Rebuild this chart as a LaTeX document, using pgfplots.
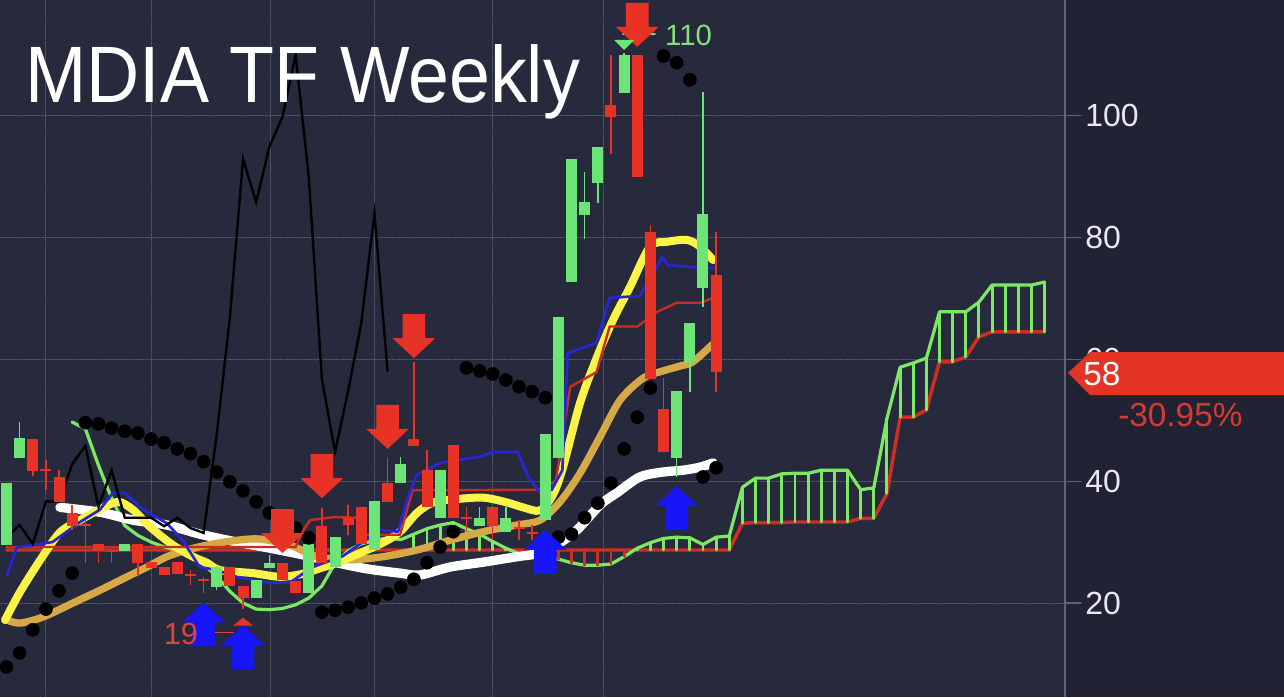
\documentclass[border=0pt]{standalone}
\usepackage{pgfplots}
\pgfplotsset{compat=1.18}
\usepackage{pgfplotstable}
\usepackage{fontspec}
\setmainfont{Liberation Sans}

\definecolor{bgc}{RGB}{39,42,60}
\definecolor{panelc}{RGB}{33,34,52}
\definecolor{gridc}{RGB}{88,92,112}
\definecolor{axc}{RGB}{95,99,118}
\definecolor{tickc}{RGB}{232,232,236}
\definecolor{cgreen}{RGB}{108,228,118}
\definecolor{cred}{RGB}{232,50,38}
\definecolor{emaY}{RGB}{250,244,72}
\definecolor{emaG}{RGB}{214,168,70}
\definecolor{tenkan}{RGB}{38,40,215}
\definecolor{kijun}{RGB}{200,45,32}
\definecolor{spanA}{RGB}{125,232,100}
\definecolor{spanB}{RGB}{205,48,32}
\definecolor{upblue}{RGB}{22,22,248}
\definecolor{tagred}{RGB}{228,52,38}
\definecolor{pcttext}{RGB}{215,58,48}
\definecolor{hilab}{RGB}{130,225,120}
\definecolor{lowlab}{RGB}{228,66,56}

% block arrows, tip at the data point
\pgfdeclareplotmark{arrdown}{%
  \pgfpathmoveto{\pgfqpoint{0pt}{0pt}}%
  \pgfpathlineto{\pgfqpoint{16pt}{15pt}}%
  \pgfpathlineto{\pgfqpoint{8.5pt}{15pt}}%
  \pgfpathlineto{\pgfqpoint{8.5pt}{33pt}}%
  \pgfpathlineto{\pgfqpoint{-8.5pt}{33pt}}%
  \pgfpathlineto{\pgfqpoint{-8.5pt}{15pt}}%
  \pgfpathlineto{\pgfqpoint{-16pt}{15pt}}%
  \pgfpathclose\pgfusepathqfill}
\pgfdeclareplotmark{arrup}{%
  \pgfpathmoveto{\pgfqpoint{0pt}{0pt}}%
  \pgfpathlineto{\pgfqpoint{16pt}{-15pt}}%
  \pgfpathlineto{\pgfqpoint{8.5pt}{-15pt}}%
  \pgfpathlineto{\pgfqpoint{8.5pt}{-33pt}}%
  \pgfpathlineto{\pgfqpoint{-8.5pt}{-33pt}}%
  \pgfpathlineto{\pgfqpoint{-8.5pt}{-15pt}}%
  \pgfpathlineto{\pgfqpoint{-16pt}{-15pt}}%
  \pgfpathclose\pgfusepathqfill}
\pgfdeclareplotmark{triup}{%
  \pgfpathmoveto{\pgfqpoint{0pt}{0pt}}%
  \pgfpathlineto{\pgfqpoint{7.5pt}{-6pt}}%
  \pgfpathlineto{\pgfqpoint{-7.5pt}{-6pt}}%
  \pgfpathclose\pgfusepathqfill}
\pgfdeclareplotmark{tridown}{%
  \pgfpathmoveto{\pgfqpoint{0pt}{0pt}}%
  \pgfpathlineto{\pgfqpoint{7.5pt}{7.5pt}}%
  \pgfpathlineto{\pgfqpoint{-7.5pt}{7.5pt}}%
  \pgfpathclose\pgfusepathqfill}

% weekly candles: index, open, high, low, close
\pgfplotstableread{
i O H L C
0 29.5 39.7 29.5 39.7
1 43.8 49.7 43.8 47.1
9 28.5 29.7 28.5 29.7
16 22.6 26.1 22.1 25.9
19 20.8 23.8 20.8 23.8
20 25.7 27.9 25.7 26.6
23 21.6 29.7 21.6 29.7
25 25.9 30.8 25.9 30.8
28 28.7 36.7 28.7 36.7
30 39.7 44.0 39.7 42.8
33 34.0 41.8 34.0 41.8
36 32.6 35.8 32.6 34.0
38 31.7 35.8 31.7 34.0
41 33.6 47.7 33.6 47.7
42 43.8 66.9 43.8 66.9
43 72.7 92.9 72.7 92.9
44 83.7 90.7 79.7 85.8
45 89.0 94.9 85.7 94.9
47 103.8 110.3 103.8 110.0
51 43.8 54.8 40.7 54.8
52 59.6 66.0 54.6 66.0
53 71.7 103.9 68.6 83.9
}\greencandles

\pgfplotstableread{
i O H L C
2 46.9 46.9 40.9 41.7
3 42.0 43.5 38.6 41.7
4 40.7 41.8 36.6 36.6
5 34.8 36.1 32.0 32.6
6 32.9 33.6 26.6 32.6
7 29.7 29.7 26.6 28.5
8 28.6 28.8 26.6 28.3
10 29.7 29.7 24.6 26.6
11 26.7 26.7 25.7 25.7
12 25.9 25.9 24.6 24.6
13 26.7 26.7 24.8 24.8
14 24.7 25.4 22.9 24.4
15 23.9 24.3 21.7 23.6
17 25.9 25.9 22.8 22.8
18 22.8 22.8 19.0 20.8
21 26.6 26.6 23.8 23.8
22 23.6 23.6 21.6 21.6
24 32.6 35.6 26.6 26.6
26 34.0 36.1 31.2 32.8
27 35.8 35.8 29.7 29.7
29 39.7 43.8 36.6 36.6
31 46.9 59.6 45.8 45.8
32 41.8 45.1 35.8 35.8
34 45.9 45.9 34.0 34.0
35 34.1 35.8 31.7 33.8
37 35.8 35.8 30.3 32.6
39 32.4 33.6 30.3 32.1
40 31.6 32.8 30.3 31.3
46 101.8 110.0 93.7 99.8
48 110.0 110.0 90.0 90.0
49 80.9 82.0 56.8 56.8
50 51.9 56.9 44.8 44.8
54 73.9 80.9 54.6 58.0
}\redcandles

% ichimoku cloud: leading span A and span B
\pgfplotstableread{
i A B
0 nan 28.7
1 nan 28.7
2 nan 28.7
3 nan 28.7
4 nan 28.7
5 49.7 28.7
6 48.6 28.7
7 42.6 28.7
8 37.2 28.7
9 32.7 28.7
10 31.1 28.7
11 30.0 28.7
12 29.2 28.7
13 28.6 28.7
14 27.8 28.7
15 26.3 28.7
16 24.4 28.7
17 21.9 28.7
18 20.0 28.7
19 19.0 28.7
20 18.9 28.7
21 19.1 28.7
22 19.7 28.7
23 20.8 28.7
24 22.8 28.7
25 26.5 28.7
26 28.6 28.7
27 29.7 28.7
28 30.3 28.7
29 30.7 28.7
30 30.4 28.7
31 31.3 28.7
32 32.2 28.7
33 32.8 28.7
34 33.2 28.7
35 32.2 28.7
36 31.3 28.7
37 30.1 28.7
38 29.0 28.7
39 28.1 28.7
40 27.6 28.7
41 27.5 28.7
42 27.2 28.7
43 26.6 28.7
44 26.2 28.7
45 26.2 28.7
46 26.4 28.7
47 27.6 28.7
48 29.0 28.7
49 29.9 28.7
50 30.6 28.7
51 30.8 28.7
52 30.7 28.7
53 29.6 28.7
54 30.8 28.7
55 31.0 28.7
56 39.0 33.1
57 40.5 33.2
58 40.5 33.2
59 41.2 33.2
60 41.3 33.3
61 41.3 33.3
62 41.8 33.3
63 41.8 33.3
64 41.8 33.3
65 38.6 33.9
66 38.9 33.9
67 50.3 38.0
68 58.7 50.5
69 59.4 50.5
70 60.2 51.7
71 67.8 59.6
72 67.8 59.6
73 67.8 60.4
74 69.4 63.7
75 72.2 64.5
76 72.2 64.5
77 72.2 64.5
78 72.2 64.5
79 72.7 64.5
}\cloud

\begin{document}
\begin{tikzpicture}
\fill[bgc] (0,0) rectangle (798.75pt,522.75pt);
\fill[panelc] (798.75pt,0) rectangle (963pt,522.75pt);
\begin{axis}[
    at={(0,0)}, anchor=south west,
    width=798.75pt, height=522.75pt, scale only axis,
    xmin=-0.495, xmax=80.55, ymin=4.565, ymax=119.0,
    axis line style={draw=none},
    ytick={20,40,60,80,100},
    ytick pos=right, yticklabel pos=right,
    xtick={3.0,11.0,20.05,27.97,36.95,45.4},
    xticklabels={},
    xmajorgrids, ymajorgrids,
    grid style={gridc, densely dotted, line width=0.7pt},
    tick align=outside,
    major tick length=12pt,
    x tick style={draw=none},
    y tick style={draw=axc, line width=0.8pt},
    yticklabel style={font=\fontsize{24}{24}\selectfont, text=tickc, inner sep=3pt},
    /pgf/number format/assume math mode=true,
    line cap=round, line join=round,
    bars/.style={draw=none, mark=none, error bars/.cd, y dir=plus, y explicit, error mark=none},
]
% cloud
\addplot[spanB, line width=2.6pt] table[x=i, y=B] {\cloud};
\addplot[spanA, line width=2.4pt] table[x=i, y=A] {\cloud};
\addplot[restrict x to domain=31:38, bars,
  error bar style={draw=spanA, line width=2.2pt}]
  table[x=i, y=B, y error expr=\thisrow{A}-\thisrow{B}] {\cloud};
\addplot[restrict x to domain=48:79, bars,
  error bar style={draw=spanA, line width=2.2pt}]
  table[x=i, y=B, y error expr=\thisrow{A}-\thisrow{B}] {\cloud};
\addplot[restrict x to domain=39:47, bars,
  error bar style={draw=spanB, line width=2.2pt}]
  table[x=i, y=A, y error expr=\thisrow{B}-\thisrow{A}] {\cloud};

% moving averages
\addplot[white, line width=7pt, smooth] coordinates {
(4.07,35.7)(7.12,34.9)(9.63,33.6)(12.21,32.8)(14.73,31.3)(17.54,30.0)(20.05,29.0)
(22.56,27.9)(25.15,26.6)(27.43,25.6)(29.95,24.9)(31.47,24.6)(33.75,25.9)(36.26,26.7)
(38.85,27.6)(40.60,28.2)(42.12,29.9)(43.42,32.0)(45.17,36.1)(46.46,38.1)(48.21,40.7)
(49.96,41.5)(51.48,41.8)(52.78,42.3)(53.77,43.0)};
\addplot[emaG, line width=5.5pt, smooth] coordinates {
(0.04,17.2)(1.03,16.7)(2.78,17.7)(5.06,20.0)(7.12,22.1)(9.17,24.3)(10.69,25.9)
(12.21,27.6)(13.74,28.7)(15.26,29.5)(17.54,30.3)(19.29,30.5)(21.58,29.5)(23.63,27.6)
(26.14,27.1)(28.65,27.6)(31.24,28.7)(33.75,30.3)(36.26,31.7)(38.85,32.8)(40.60,33.6)
(42.12,36.6)(43.64,41.3)(45.17,47.3)(46.69,53.3)(48.44,56.9)(49.96,58.1)(51.25,58.9)
(52.24,59.6)(53.69,62.4)};
\addplot[emaY, line width=6pt, smooth] coordinates {
(-0.11,17.2)(1.03,21.8)(2.55,27.0)(4.07,31.6)(5.59,33.6)(7.12,35.4)(8.49,36.6)
(9.63,35.3)(10.92,32.5)(12.67,29.5)(14.19,27.6)(15.26,26.6)(16.25,25.4)(18.76,24.9)
(20.81,24.3)(22.56,24.8)(23.86,25.7)(25.15,26.6)(26.90,28.2)(28.65,29.9)(29.95,31.7)
(31.24,34.8)(32.46,36.5)(33.98,37.0)(36.26,37.3)(38.09,36.5)(39.31,35.7)(40.60,35.2)
(41.59,37.8)(42.35,42.3)(43.64,52.8)(44.94,60.4)(46.16,66.5)(47.45,71.9)(48.97,78.5)
(50.27,79.3)(51.79,79.6)(52.78,78.5)(53.77,76.3)};

% base line and conversion line
\addplot[kijun, line width=1.8pt] coordinates {
(0,29.2)(22.0,29.2)(22.6,32.0)(23.1,33.6)(24.9,34.1)(26.7,34.0)(27.4,31.2)(29.95,31.2)
(30.9,38.5)(40.5,38.6)(41.8,40.0)(42.9,55.5)(44.9,57.9)(45.9,65.4)(48.0,65.4)(49.5,67.8)
(51.0,69.3)(52.8,69.3)(53.8,70.1)};
\addplot[tenkan, line width=2pt] coordinates {
(0.04,24.6)(0.8,29.2)(2.0,29.5)(3.5,30.0)(5.6,33.3)(7.1,35.3)(8.1,38.1)(9.0,38.1)
(10.4,35.3)(12.2,33.1)(13.4,30.3)(14.7,25.9)(16.0,25.4)(17.5,24.3)(20.1,23.3)(21.6,23.4)
(23.3,25.9)(25.6,27.7)(28.4,32.0)(29.8,31.7)(30.5,36.9)(31.2,41.0)(33.0,43.0)(36.0,44.0)
(37.0,44.8)(38.9,44.8)(39.7,40.7)(40.6,38.1)(41.5,38.6)(42.3,41.8)(42.7,61.0)(44.9,62.7)
(45.9,70.1)(48.2,70.4)(49.5,75.2)(49.9,76.8)(50.3,75.5)(51.8,75.2)(53.8,75.0)};

% lagging span
\addplot[black, line width=1.8pt, line cap=butt, line join=miter] coordinates {
(0,30.8)(1,32.8)(2,29.7)(3,36.7)(4,36.6)(5,42.8)(6,45.8)(7,35.8)(8,41.8)(9,34.0)
(10,34.0)(11,34.0)(12,32.6)(13,34.0)(14,32.3)(15,31.5)(16,47.7)(17,66.9)(18,92.9)
(19,85.8)(20,94.9)(21,99.8)(22,110.0)(23,90.0)(24,56.8)(25,44.8)(26,54.8)(27,66.0)
(28,83.9)(29,58.0)};

% candles
\addplot[bars, error bar style={draw=cgreen, line width=1.1pt, line cap=butt}]
  table[x=i, y=L, y error expr=\thisrow{H}-\thisrow{L}] {\greencandles};
\addplot[bars, error bar style={draw=cgreen, line width=8.25pt, line cap=butt}]
  table[x=i, y=O, y error expr=\thisrow{C}-\thisrow{O}] {\greencandles};
\addplot[bars, error bar style={draw=cred, line width=1.1pt, line cap=butt}]
  table[x=i, y=L, y error expr=\thisrow{H}-\thisrow{L}] {\redcandles};
\addplot[bars, error bar style={draw=cred, line width=8.25pt, line cap=butt}]
  table[x=i, y=C, y error expr=\thisrow{O}-\thisrow{C}] {\redcandles};

% parabolic SAR
\addplot[only marks, mark=*, mark size=4.9pt, black] coordinates {
(0,9.5)(1,11.8)(2,15.6)(3,19.0)(4,22.0)(5,24.9)
(6,49.6)(7,49.4)(8,48.7)(9,48.2)(10,47.9)(11,46.9)(12,46.3)(13,45.3)(14,44.5)(15,43.2)
(16,41.5)(17,39.9)(18,38.4)(19,36.6)(20,34.8)(21,33.5)(22,32.3)(23,30.7)
(24,18.5)(25,18.8)(26,19.3)(27,20.0)(28,20.8)(29,21.5)(30,22.6)(31,23.9)(32,26.6)(33,29.2)(34,31.7)
(35,58.6)(36,58.1)(37,57.6)(38,56.6)(39,55.5)(40,54.7)(41,53.7)
(42,30.8)(43,31.3)(44,34.0)(45,36.4)(46,39.7)(47,45.3)(48,50.5)(49,55.3)
(50,109.8)(51,108.7)(52,105.9)
(53,40.7)(54,42.2)};

% signals
\addplot[only marks, mark=arrdown, color=cred] coordinates {
(31,60.2)(29,45.3)(24,37.2)(21,28.2)(48,111.3)};
\addplot[only marks, mark=arrup, color=upblue] coordinates {
(15,20.1)(18,16.4)(41,32.0)(51,39.2)};
\addplot[only marks, mark=triup, color=cred] coordinates {(18,17.6)};
\addplot[only marks, mark=tridown, color=cgreen] coordinates {(47,110.8)};

% high / low marker lines
\addplot[hilab, line width=1pt] coordinates {(46.9,113.4)(49.35,113.4)};
\addplot[lowlab, line width=0.9pt] coordinates {(15.64,15.2)(17.24,15.2)};
\coordinate (hi) at (axis cs:50.1,113.2);
\coordinate (lo) at (axis cs:11.95,14.9);
\end{axis}
\node[anchor=west, inner sep=0pt, text=hilab, font=\fontsize{22}{22}\selectfont] at (hi) {110};
\node[anchor=west, inner sep=0pt, text=lowlab, font=\fontsize{23}{23}\selectfont] at (lo) {19};
\draw[axc, line width=0.8pt] (798.75pt,0) -- (798.75pt,522.75pt);
\node[anchor=base west, inner sep=0pt, text=white, xscale=0.92,
  font=\fontsize{60}{60}\selectfont] at (18.75pt,445.5pt) {MDIA TF Weekly};
% last price tag
\fill[tagred] (801pt,243pt) -- (817.5pt,258.75pt) -- (963pt,258.75pt)
  -- (963pt,226.5pt) -- (817.5pt,226.5pt) -- cycle;
\node[anchor=west, inner sep=0pt, text=white, font=\fontsize{25}{25}\selectfont] at (812.25pt,242.25pt) {58};
\node[anchor=west, inner sep=0pt, text=pcttext, font=\fontsize{25}{25}\selectfont] at (838.5pt,211.5pt) {-30.95\%};
\pgfresetboundingbox
\path[use as bounding box] (0,0) rectangle (963pt,522.75pt);
\end{tikzpicture}
\end{document}
